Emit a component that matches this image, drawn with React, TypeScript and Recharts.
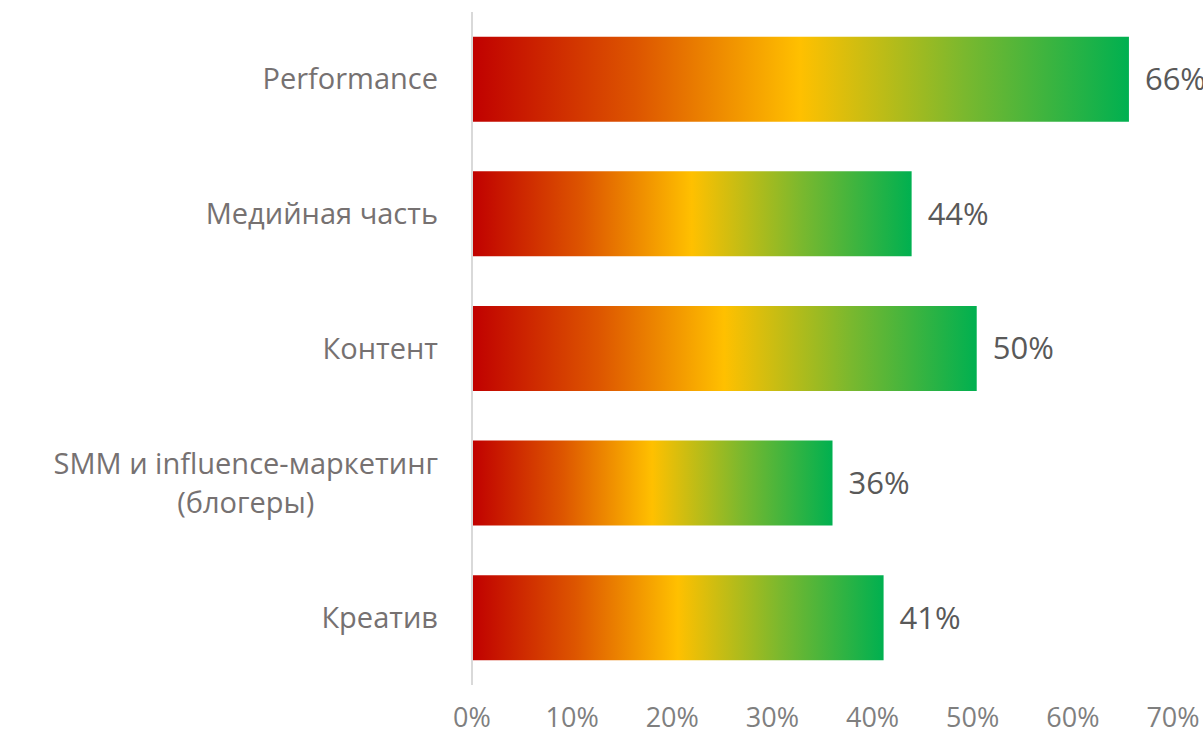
import { BarChart, Bar, XAxis, YAxis, LabelList } from "recharts";

const categories = [
  "Performance",
  "Медийная часть",
  "Контент",
  "SMM и influence-маркетинг\n(блогеры)",
  "Креатив",
];
const shares = [65.6, 43.9, 50.4, 36.0, 41.1];
const xTicks = [0, 10, 20, 30, 40, 50, 60, 70];

const data = categories.map((name, i) => ({ name, value: shares[i] }));

const FONT = "'Open Sans', 'Noto Sans', sans-serif";
const CAT_SIZE = 29;

let ctx: CanvasRenderingContext2D | null = null;
const measure = (s: string) => {
  if (!ctx) ctx = document.createElement("canvas").getContext("2d");
  if (!ctx) return s.length * CAT_SIZE * 0.5;
  ctx.font = `${CAT_SIZE}px 'Open Sans'`;
  return ctx.measureText(s).width;
};

const CategoryTick = ({ x, y, payload }: any) => {
  const lines = String(payload.value).split("\n");
  if (lines.length === 1) {
    return (
      <text x={x} y={y} dy="0.35em" textAnchor="end" fill="#767171" fontSize={CAT_SIZE} fontFamily={FONT}>
        {lines[0]}
      </text>
    );
  }
  const w = Math.max(...lines.map(measure));
  const cx = x - w / 2;
  const lh = 39;
  const top = y - ((lines.length - 1) * lh) / 2;
  return (
    <text textAnchor="middle" fill="#767171" fontSize={CAT_SIZE} fontFamily={FONT}>
      {lines.map((l, i) => (
        <tspan key={i} x={cx} y={top + i * lh} dy="0.35em">
          {l}
        </tspan>
      ))}
    </text>
  );
};

export default function App() {
  return (
    <div style={{ position: "absolute", left: 0, top: 0, background: "#fff" }}>
      <BarChart
        width={1203}
        height={735}
        data={data}
        layout="vertical"
        margin={{ top: 12, right: 30, left: 0, bottom: 0 }}
        barCategoryGap="18.4%"
      >
        <defs>
          <linearGradient id="heat" x1="0" y1="0" x2="1" y2="0">
            <stop offset="0%" stopColor="#C00000" />
            <stop offset="25%" stopColor="#DD5500" />
            <stop offset="50%" stopColor="#FFC000" />
            <stop offset="75%" stopColor="#7AB82E" />
            <stop offset="100%" stopColor="#00B050" />
          </linearGradient>
        </defs>
        <XAxis
          type="number"
          domain={[0, 70]}
          ticks={xTicks}
          tickFormatter={(v) => `${v}%`}
          axisLine={false}
          tickLine={false}
          tickSize={0}
          tickMargin={23}
          height={50}
          tick={{ fill: "#7F7F7F", fontSize: 27, fontFamily: FONT }}
        />
        <YAxis
          type="category"
          dataKey="name"
          width={472}
          axisLine={{ stroke: "#D9D9D9", strokeWidth: 2 }}
          tickLine={false}
          tickSize={0}
          tickMargin={34}
          tick={<CategoryTick />}
          interval={0}
        />
        <Bar dataKey="value" fill="url(#heat)" isAnimationActive={false}>
          <LabelList
            dataKey="value"
            position="right"
            offset={16}
            formatter={(v: any) => `${Math.round(v)}%`}
            fill="#595959"
            fontSize={31}
            fontFamily={FONT}
          />
        </Bar>
      </BarChart>
    </div>
  );
}
